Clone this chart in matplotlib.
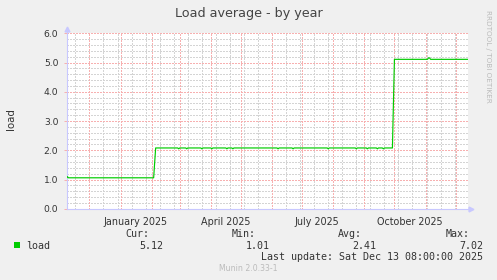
import numpy as np
import pandas as pd
import matplotlib
matplotlib.use("Agg")
import matplotlib.pyplot as plt
from matplotlib.patches import Rectangle

# load average (points where the line changes)
load_dates = [
    "2024-11-08 08:00", "2024-11-09", "2024-11-10", "2025-02-03", "2025-02-05",
    "2025-02-27", "2025-02-28", "2025-03-01",
    "2025-03-07", "2025-03-08", "2025-03-09",
    "2025-03-22", "2025-03-23", "2025-03-24",
    "2025-04-01", "2025-04-02", "2025-04-03",
    "2025-04-16", "2025-04-17", "2025-04-18",
    "2025-04-22", "2025-04-23", "2025-04-24",
    "2025-06-06", "2025-06-07", "2025-06-08",
    "2025-06-21", "2025-06-22", "2025-06-23",
    "2025-07-26", "2025-07-27", "2025-07-28",
    "2025-08-23", "2025-08-24", "2025-08-25",
    "2025-09-03", "2025-09-04", "2025-09-05",
    "2025-09-13", "2025-09-14", "2025-09-15",
    "2025-09-19", "2025-09-20", "2025-09-21",
    "2025-09-29", "2025-10-01",
    "2025-11-03", "2025-11-04", "2025-11-05", "2025-11-06",
    "2025-12-13 08:00",
]
load_values = [
    1.06, 1.10, 1.06, 1.06, 2.08,
    2.08, 2.05, 2.08,
    2.08, 2.05, 2.08,
    2.08, 2.05, 2.08,
    2.08, 2.05, 2.08,
    2.08, 2.05, 2.08,
    2.08, 2.05, 2.08,
    2.08, 2.05, 2.08,
    2.08, 2.05, 2.08,
    2.08, 2.05, 2.08,
    2.08, 2.05, 2.08,
    2.08, 2.05, 2.08,
    2.08, 2.05, 2.08,
    2.08, 2.05, 2.08,
    2.08, 5.11,
    5.11, 5.16, 5.16, 5.11,
    5.11,
]

# legend numbers
stat_names = ["Cur:", "Min:", "Avg:", "Max:"]
stat_values = ["5.12", "1.01", "2.41", "7.02"]
x_labels = ["January 2025", "April 2025", "July 2025", "October 2025"]
x_label_dates = ["2025-01-16", "2025-04-15 12:00", "2025-07-16", "2025-10-16"]

W, H = 497, 280
fig = plt.figure(figsize=(W / 100, H / 100), dpi=100, facecolor="#F0F0F0")

def fx(px):
    return px / W

def fy(py):
    return 1 - py / H

left, right, top, bottom = 66.7, 468.0, 33.3, 208.8
ax = fig.add_axes([fx(left), fy(bottom), fx(right) - fx(left), fy(top) - fy(bottom)])
ax.set_facecolor("white")

t0 = pd.Timestamp("2024-11-08 08:00")
t1 = pd.Timestamp("2025-12-13 08:00")
ax.set_xlim(t0, t1)
ax.set_ylim(0, 6)

red = "#F7B0B0"
gray = "#D4D4D4"
dots = (0, (1.4, 1.4))
grid_kw = dict(lw=0.72, ls=dots, antialiased=False)

# minor grid: every 2 weeks (sundays) and every 0.2
for d in pd.date_range("2024-11-17", t1, freq="14D"):
    ax.axvline(d, color=gray, zorder=1, **grid_kw)
for v in np.arange(0.2, 6.0, 0.2):
    ax.axhline(v, color=gray, zorder=1, **grid_kw)
# major grid: months and whole numbers
for d in pd.date_range("2024-12-01", t1, freq="MS"):
    ax.axvline(d, color=red, zorder=2, **grid_kw)
for v in range(1, 7):
    ax.axhline(v, color=red, zorder=2, **grid_kw)

ax.plot(pd.to_datetime(load_dates, format="mixed"), load_values, color="#00CC00", lw=0.85, zorder=3)

ax.set_xticks([])
ax.set_yticks(range(7))
ax.set_yticklabels([f"{v:.1f}" for v in range(7)])
ax.tick_params(axis="y", length=2, width=0.7, color=red, pad=4, labelsize=6.6,
               labelcolor="#333333")

for s in ["top", "right"]:
    ax.spines[s].set_visible(False)
axis_col = "#C8C8FF"
for s in ["left", "bottom"]:
    ax.spines[s].set_color(axis_col)
    ax.spines[s].set_linewidth(0.8)
ax.plot([0, 0], [1.0, 1.02], color=axis_col, lw=0.8, transform=ax.transAxes, clip_on=False)
ax.plot([1.0, 1.006], [0, 0], color=axis_col, lw=0.8, transform=ax.transAxes, clip_on=False)
ax.plot([0], [1.025], marker="^", ms=3.5, color=axis_col, transform=ax.transAxes, clip_on=False)
ax.plot([1.008], [0], marker=">", ms=3.5, color=axis_col, transform=ax.transAxes, clip_on=False)

for lab, d in zip(x_labels, x_label_dates):
    ax.text(pd.Timestamp(d), -0.045, lab, transform=ax.get_xaxis_transform(),
            ha="center", va="top", fontsize=6.9, color="#333333", family="DejaVu Sans")

fig.text(fx(248.5), fy(13), "Load average - by year", ha="center", va="center",
         fontsize=9.2, color="#444444", family="DejaVu Sans")
fig.text(fx(11), fy(119), "load", rotation=90, ha="center", va="center",
         fontsize=7.4, color="#333333", family="DejaVu Sans")
fig.text(fx(488), fy(56), "RRDTOOL / TOBI OETIKER", rotation=270, ha="center", va="center",
         fontsize=5.2, color="#BBBBBB", family="DejaVu Sans")

mono = "DejaVu Sans Mono"
fig.patches.append(Rectangle((fx(14), fy(248.3)), fx(6), 6 / H, transform=fig.transFigure,
                             facecolor="#00CC00", edgecolor="none"))
fig.text(fx(26), fy(245.7), "load", ha="left", va="center", fontsize=7.2, color="#333333", family=mono)
name_right = [149, 256, 362.3, 470]
value_right = [163.3, 270, 376.7, 483.3]
for n, v, xn, xv in zip(stat_names, stat_values, name_right, value_right):
    fig.text(fx(xn), fy(234), n, ha="right", va="center", fontsize=7.2, color="#333333", family=mono)
    fig.text(fx(xv), fy(245.7), v, ha="right", va="center", fontsize=7.2, color="#333333", family=mono)
fig.text(fx(483.3), fy(257.3), "Last update: Sat Dec 13 08:00:00 2025", ha="right", va="center",
         fontsize=7.2, color="#333333", family=mono)
fig.text(fx(248.7), fy(268.3), "Munin 2.0.33-1", ha="center", va="center",
         fontsize=5.6, color="#BBBBBB", family="DejaVu Sans")

fig.savefig("out.png", dpi=100, facecolor=fig.get_facecolor())
